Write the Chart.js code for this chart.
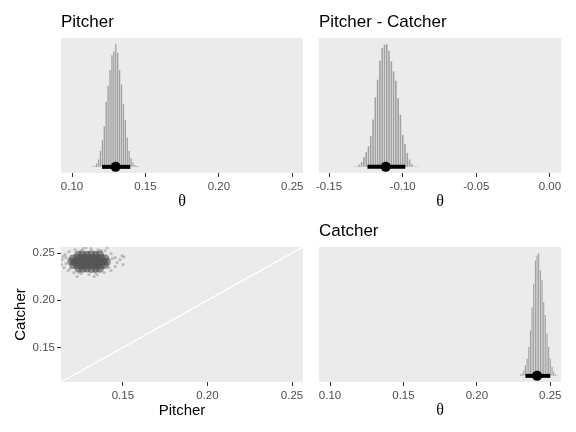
<!DOCTYPE html>
<html lang="en">
<head>
<meta charset="UTF-8">
<title>Pitcher vs Catcher</title>
<script src="https://cdn.jsdelivr.net/npm/chart.js@4.4.1/dist/chart.umd.min.js"></script>
<style>
    body { margin: 0; background: #fff; width: 576px; height: 432px; position: relative; overflow: hidden; }
    canvas { position: absolute; }
</style>
</head>
<body>
<canvas id="pitcher" width="272" height="215" style="left:46px;top:0px"></canvas>
<canvas id="diff" width="272" height="215" style="left:304px;top:0px"></canvas>
<canvas id="scatter" width="318" height="191" style="left:0px;top:233px"></canvas>
<canvas id="catcher" width="272" height="215" style="left:304px;top:209px"></canvas>

<script>
// posterior histograms: bin centres and relative heights (peak = 100)
const pitcherBins = [0.1142, 0.1155, 0.1168, 0.1181, 0.1194, 0.1207, 0.1220, 0.1233, 0.1246, 0.1259,
                     0.1272, 0.1285, 0.1298, 0.1311, 0.1324, 0.1337, 0.1350, 0.1363, 0.1376, 0.1389,
                     0.1402, 0.1415, 0.1428, 0.1441, 0.1454];
const pitcherHeights = [0.5, 1, 2.5, 6, 13, 22, 33, 53, 66, 79,
                        91, 94, 100, 93, 79, 67, 51, 38, 24, 13,
                        7, 3.5, 1.5, 0.7, 0.3];
const pitcherInterval = [0.1205, 0.1397];
const pitcherPoint = 0.1297;

const diffBins = [-0.1325, -0.13095, -0.1294, -0.12785, -0.1263, -0.12475, -0.1232, -0.12165, -0.1201, -0.11855,
                  -0.117, -0.11545, -0.1139, -0.11235, -0.1108, -0.10925, -0.1077, -0.10615, -0.1046, -0.10305,
                  -0.1015, -0.09995, -0.0984, -0.09685, -0.0953, -0.09375, -0.0922, -0.09065, -0.0891];
const diffHeights = [0.3, 0.6, 1.9, 4, 7.9, 12, 16.8, 25, 38.5, 56.7,
                     71, 86.4, 96.7, 99.5, 100, 94.6, 86, 77.8, 70.2, 56,
                     42.5, 26, 18.7, 11.4, 6, 2.4, 0.6, 0.3, 0.1];
const diffInterval = [-0.1239, -0.0982];
const diffPoint = -0.1115;

const catcherBins = [0.2297, 0.2308, 0.2320, 0.2331, 0.2342, 0.2354, 0.2365, 0.2376, 0.2387, 0.2399,
                     0.2410, 0.2421, 0.2433, 0.2444, 0.2455, 0.2466, 0.2478, 0.2489, 0.2500, 0.2512,
                     0.2523, 0.2534, 0.2545];
const catcherHeights = [1.1, 1.9, 4.6, 8.7, 14, 23.6, 37.2, 56, 75, 94,
                        98, 100, 86, 78, 60, 49.5, 34.5, 23.6, 14, 7.3,
                        3.3, 1.4, 0.5];
const catcherInterval = [0.2331, 0.2500];
const catcherPoint = 0.2410;

// joint draws (pitcher theta, catcher theta): dense core ...
const pitcherDraws = [
    0.1195, 0.1218, 0.1242, 0.1266, 0.1289, 0.1313, 0.1337, 0.1360, 0.1384, 0.1405,
    0.1205, 0.1229, 0.1253, 0.1276, 0.1300, 0.1324, 0.1347, 0.1371, 0.1395,
    0.1207, 0.1230, 0.1254, 0.1277, 0.1301, 0.1325, 0.1348, 0.1372, 0.1393,
    0.1236, 0.1261, 0.1287, 0.1313, 0.1339, 0.1364,
    0.1238, 0.1262, 0.1288, 0.1314, 0.1340, 0.1363];
const catcherDraws = [
    0.2412, 0.2406, 0.2413, 0.2408, 0.2411, 0.2407, 0.2414, 0.2409, 0.2412, 0.2408,
    0.2444, 0.2449, 0.2446, 0.2450, 0.2445, 0.2448, 0.2444, 0.2449, 0.2445,
    0.2375, 0.2371, 0.2374, 0.2370, 0.2376, 0.2372, 0.2375, 0.2371, 0.2374,
    0.2482, 0.2486, 0.2483, 0.2487, 0.2482, 0.2485,
    0.2338, 0.2334, 0.2337, 0.2333, 0.2338, 0.2335];
// ... and the sparse tail around it
const pitcherTail = [
    0.1140, 0.1137, 0.1152, 0.1158, 0.1182, 0.1217, 0.1264, 0.1312, 0.1353, 0.1395,
    0.1430, 0.1454, 0.1466, 0.1454, 0.1430, 0.1389, 0.1347, 0.1300, 0.1253, 0.1211,
    0.1176, 0.1146, 0.1483, 0.1229, 0.1330, 0.1407, 0.1282, 0.1501, 0.1495, 0.1164,
    0.1164, 0.1436, 0.1418, 0.1188, 0.1241, 0.1371, 0.1253, 0.1336, 0.1506];
const catcherTail = [
    0.2431, 0.2378, 0.2347, 0.2484, 0.2515, 0.2536, 0.2547, 0.2547, 0.2536, 0.2526,
    0.2494, 0.2452, 0.2399, 0.2357, 0.2315, 0.2294, 0.2273, 0.2273, 0.2284, 0.2294,
    0.2315, 0.2463, 0.2431, 0.2252, 0.2252, 0.2557, 0.2557, 0.2378, 0.2473, 0.2389,
    0.2452, 0.2442, 0.2347, 0.2336, 0.2294, 0.2526, 0.2526, 0.2294, 0.2458];

// axis ranges and tick labels
const thetaRange = [0.0925, 0.2573];
const thetaTicks = [0.10, 0.15, 0.20, 0.25];
const diffRange = [-0.1568, 0.0075];
const diffTicks = [-0.15, -0.10, -0.05, 0.00];
const jointRange = [0.1134, 0.2565];
const jointTicks = [0.15, 0.20, 0.25];

const sans = "'Liberation Sans', Arial, Helvetica, sans-serif";
Chart.defaults.font.family = sans;
Chart.defaults.animation = false;

const panelBg = {
    id: 'panelBg',
    beforeDraw(chart) {
        const a = chart.chartArea, c = chart.ctx;
        c.save();
        c.fillStyle = '#EBEBEB';
        c.fillRect(a.left, a.top, a.right - a.left, a.bottom - a.top);
        c.restore();
    }
};

function xAxis(range, ticks, titleText, titleFont) {
    return {
        type: 'linear',
        min: range[0],
        max: range[1],
        offset: false,
        afterBuildTicks: s => { s.ticks = ticks.map(v => ({ value: v })); },
        afterFit: s => { s.height = 42; },
        grid: { offset: false, drawOnChartArea: false, drawTicks: true, tickLength: 4, color: '#333333', lineWidth: 1 },
        border: { display: false },
        ticks: { color: '#4D4D4D', font: { size: 11.5 }, padding: 3, maxRotation: 0, autoSkip: false,
                 callback: v => v.toFixed(2) },
        title: { display: true, text: titleText, color: '#000', font: titleFont, padding: { top: 0, bottom: 4 } }
    };
}

function histPanel(id, title, bins, heights, interval, point, range, ticks) {
    new Chart(document.getElementById(id), {
        type: 'bar',
        data: {
            datasets: [
                {
                    type: 'line', order: 0, showLine: false,
                    data: [{ x: point, y: 0 }],
                    pointRadius: 5, pointBackgroundColor: '#000', pointBorderWidth: 0
                },
                {
                    type: 'line', order: 1,
                    data: [{ x: interval[0], y: 0 }, { x: interval[1], y: 0 }],
                    borderColor: '#000', borderWidth: 4, pointRadius: 0, borderCapStyle: 'butt'
                },
                {
                    type: 'bar', order: 2,
                    data: bins.map((b, i) => ({ x: b, y: heights[i] })),
                    backgroundColor: '#A3A3A3', borderWidth: 0,
                    categoryPercentage: 1, barPercentage: 0.72
                }
            ]
        },
        options: {
            responsive: false,
            layout: { padding: { left: 15, right: 15, top: 0, bottom: 0 } },
            plugins: {
                legend: { display: false },
                tooltip: { enabled: false },
                title: { display: true, text: title, align: 'start', color: '#000',
                         font: { size: 17, weight: 'normal' }, padding: { top: 12, bottom: 5.6 } }
            },
            scales: {
                x: xAxis(range, ticks, 'θ', { family: "'Liberation Serif', 'DejaVu Serif', serif", size: 16 }),
                y: { display: false, min: -5, max: 105 }
            }
        },
        plugins: [panelBg]
    });
}

histPanel('pitcher', 'Pitcher', pitcherBins, pitcherHeights, pitcherInterval, pitcherPoint, thetaRange, thetaTicks);
histPanel('diff', 'Pitcher - Catcher', diffBins, diffHeights, diffInterval, diffPoint, diffRange, diffTicks);
histPanel('catcher', 'Catcher', catcherBins, catcherHeights, catcherInterval, catcherPoint, thetaRange, thetaTicks);

new Chart(document.getElementById('scatter'), {
    type: 'scatter',
    data: {
        datasets: [
            {
                order: 0,
                data: pitcherDraws.map((p, i) => ({ x: p, y: catcherDraws[i] })),
                pointRadius: 4, pointBorderWidth: 0, pointBackgroundColor: 'rgba(80,80,80,0.6)'
            },
            {
                order: 1,
                data: pitcherTail.map((p, i) => ({ x: p, y: catcherTail[i] })),
                pointRadius: 1.6, pointBorderWidth: 0, pointBackgroundColor: 'rgba(80,80,80,0.3)'
            },
            {
                type: 'line', order: 2,
                data: [{ x: jointRange[0], y: jointRange[0] }, { x: jointRange[1], y: jointRange[1] }],
                borderColor: '#FFFFFF', borderWidth: 1.3, pointRadius: 0
            }
        ]
    },
    options: {
        responsive: false,
        layout: { padding: { left: 0, right: 15, top: 14, bottom: 0 } },
        plugins: { legend: { display: false }, tooltip: { enabled: false } },
        scales: {
            x: xAxis(jointRange, jointTicks, 'Pitcher', { size: 15 }),
            y: {
                type: 'linear',
                min: jointRange[0],
                max: jointRange[1],
                afterBuildTicks: s => { s.ticks = jointTicks.map(v => ({ value: v })); },
                afterFit: s => { s.width = 61; },
                grid: { drawOnChartArea: false, drawTicks: true, tickLength: 4, color: '#333333', lineWidth: 1 },
                border: { display: false },
                ticks: { color: '#4D4D4D', font: { size: 11.5 }, padding: 2, callback: v => v.toFixed(2) },
                title: { display: true, text: 'Catcher', color: '#000', font: { size: 15 }, padding: { top: 12, bottom: 0 } }
            }
        }
    },
    plugins: [panelBg]
});
</script>
</body>
</html>
